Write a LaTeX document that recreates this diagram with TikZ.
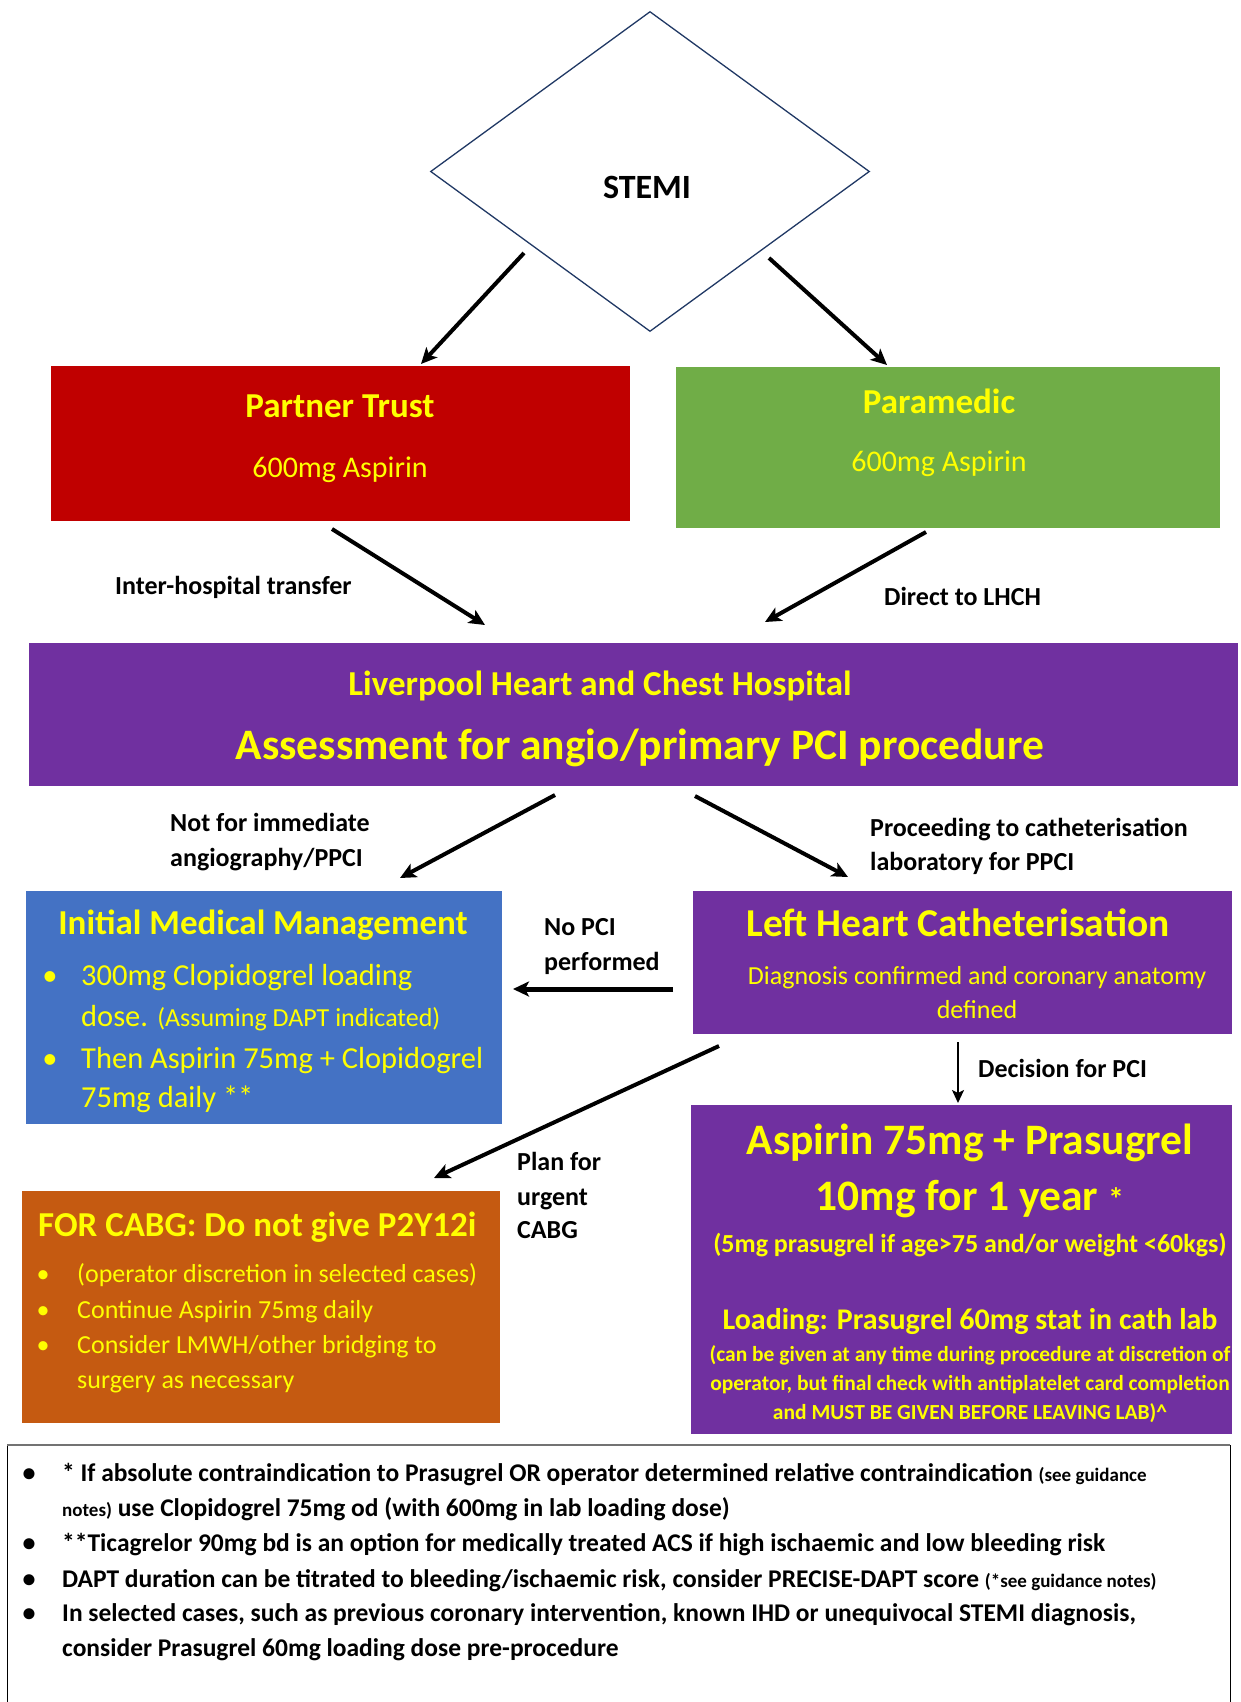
\documentclass[tikz,border=0pt]{standalone}
\usepackage{fontspec}
\setmainfont{Carlito}
\usetikzlibrary{shapes.geometric, arrows.meta}

\definecolor{trustred}{HTML}{C00000}
\definecolor{paragreen}{HTML}{70AD47}
\definecolor{lhchpurple}{HTML}{7030A0}
\definecolor{immblue}{HTML}{4472C4}
\definecolor{cabgorange}{HTML}{C55A11}
\definecolor{stemiblue}{HTML}{203864}
\definecolor{ytext}{HTML}{FFFF00}

\newcommand{\fsz}[2]{\fontsize{#1pt}{#2pt}\selectfont}

\begin{document}
\begin{tikzpicture}[x=1pt, y=-1pt,
  box/.style={draw=none, inner sep=0pt},
  ytxt/.style={text=ytext, inner sep=0pt, anchor=base},
  ktxt/.style={text=black, inner sep=0pt, anchor=base west, font=\bfseries\fsz{26}{31}},
  arr/.style={-{Stealth[length=16pt, width=15pt, inset=4pt]}, line width=4pt},
  bul/.style={inner sep=0pt, anchor=base}]
\useasboundingbox (0,0) rectangle (1240,1702);

% STEMI
\node[diamond, draw=stemiblue, line width=1.3pt, minimum width=439pt, minimum height=320pt, inner sep=0pt] (stemi) at (650,171.5) {};
\node[inner sep=0pt, anchor=base, font=\bfseries\fsz{34}{41}] (stemitxt) at (647,198) {STEMI};

% boxes
\node[box, fill=trustred, minimum width=579pt, minimum height=155pt] (trust) at (340.5,443.5) {};
\node[box, fill=paragreen, minimum width=544pt, minimum height=161pt] (para) at (948,447.5) {};
\node[box, fill=lhchpurple, minimum width=1209pt, minimum height=143pt] (lhch) at (633.5,714.5) {};
\node[box, fill=immblue, minimum width=476pt, minimum height=233pt] (imm) at (264,1007.5) {};
\node[box, fill=lhchpurple, minimum width=539pt, minimum height=143pt] (lhc) at (962.5,962.5) {};
\node[box, fill=cabgorange, minimum width=478pt, minimum height=232pt] (cabg) at (261,1307) {};
\node[box, fill=lhchpurple, minimum width=541pt, minimum height=329pt] (pras) at (961.5,1269.5) {};

% box texts
\node[ytxt, font=\bfseries\fsz{35}{42}] (trustA) at (340,417) {Partner Trust};
\node[ytxt, font=\fsz{30}{36}] (trustB) at (340,477) {600mg Aspirin};
\node[ytxt, font=\bfseries\fsz{35}{42}] (paraA) at (939,413) {Paramedic};
\node[ytxt, font=\fsz{30}{36}] (paraB) at (939,471) {600mg Aspirin};

\node[ytxt, font=\bfseries\fsz{35}{42}] (lhchA) at (600,695) {Liverpool Heart and Chest Hospital};
\node[ytxt, font=\bfseries\fsz{43.5}{52}] (lhchB) at (640,759) {Assessment for angio/primary PCI procedure};

\node[ytxt, font=\bfseries\fsz{35}{42}] (immA) at (263,934) {Initial Medical Management};
\node[bul, text=ytext, font=\fsz{30.5}{36}] (immb1) at (50,985) {\textbullet};
\node[ytxt, anchor=base west, font=\fsz{30.5}{36}] (imm1) at (81,985) {300mg Clopidogrel loading};
\node[ytxt, anchor=base west, font=\fsz{30.5}{36}] (imm2) at (81,1026) {dose. {\fsz{26}{31}(Assuming DAPT indicated)}};
\node[bul, text=ytext, font=\fsz{30.5}{36}] (immb2) at (50,1068) {\textbullet};
\node[ytxt, anchor=base west, font=\fsz{30.5}{36}] (imm3) at (81,1068) {Then Aspirin 75mg + Clopidogrel};
\node[ytxt, anchor=base west, font=\fsz{30.5}{36}] (imm4) at (81,1107) {75mg daily **};

\node[ytxt, font=\bfseries\fsz{39.5}{47}] (lhcA) at (958,936) {Left Heart Catheterisation};
\node[ytxt, font=\fsz{26}{31}] (lhcB) at (977,984) {Diagnosis confirmed and coronary anatomy};
\node[ytxt, font=\fsz{26}{31}] (lhcC) at (977,1018) {defined};

\node[ytxt, anchor=base west, font=\bfseries\fsz{35}{42}] (cabgA) at (38,1236) {FOR CABG: Do not give P2Y12i};
\foreach \yy/\txt [count=\i] in {1282/{(operator discretion in selected cases)}, 1318/{Continue Aspirin 75mg daily}, 1353/{Consider LMWH/other bridging to}} {
  \node[bul, text=ytext, font=\fsz{26}{31}] (cabgb\i) at (43,\yy) {\textbullet};
  \node[ytxt, anchor=base west, font=\fsz{26}{31}] (cabg\i) at (77,\yy) {\txt};
}
\node[ytxt, anchor=base west, font=\fsz{26}{31}] (cabg4) at (77,1388) {surgery as necessary};

\node[ytxt, font=\bfseries\fsz{43.5}{52}] (prasA) at (970,1154) {Aspirin 75mg + Prasugrel};
\node[ytxt, font=\bfseries\fsz{43.5}{52}] (prasB) at (970,1210) {10mg for 1 year {\fsz{32}{38}*}};
\node[ytxt, font=\bfseries\fsz{26}{31}] (prasC) at (970,1252) {(5mg prasugrel if age>75 and/or weight <60kgs)};
\node[ytxt, font=\bfseries\fsz{30}{36}] (prasD) at (970,1329) {Loading: Prasugrel 60mg stat in cath lab};
\node[ytxt, font=\bfseries\fsz{21.5}{26}] (prasE) at (970,1361) {(can be given at any time during procedure at discretion of};
\node[ytxt, font=\bfseries\fsz{21.5}{26}] (prasF) at (970,1390) {operator, but final check with antiplatelet card completion};
\node[ytxt, font=\bfseries\fsz{21.5}{26}] (prasG) at (970,1419) {and MUST BE GIVEN BEFORE LEAVING LAB)\textasciicircum};

% connector labels
\node[ktxt] (lblA) at (115,594) {Inter-hospital transfer};
\node[ktxt] (lblB) at (884,605) {Direct to LHCH};
\node[ktxt] (lblC1) at (170,831) {Not for immediate};
\node[ktxt] (lblC2) at (170,866) {angiography/PPCI};
\node[ktxt] (lblD1) at (870,836) {Proceeding to catheterisation};
\node[ktxt] (lblD2) at (870,870) {laboratory for PPCI};
\node[ktxt] (lblE1) at (544,935) {No PCI};
\node[ktxt] (lblE2) at (544,970) {performed};
\node[ktxt] (lblF) at (978,1077) {Decision for PCI};
\node[ktxt] (lblG1) at (517,1170) {Plan for};
\node[ktxt] (lblG2) at (517,1205) {urgent};
\node[ktxt] (lblG3) at (517,1238) {CABG};

% connector ends
\coordinate (s1) at (524,253);  \coordinate (e1) at (421,364);
\coordinate (s2) at (769,258);  \coordinate (e2) at (887,365);
\coordinate (s3) at (332,529);  \coordinate (e3) at (485,625);
\coordinate (s4) at (926,532);  \coordinate (e4) at (765,622);
\coordinate (s5) at (555,795);  \coordinate (e5) at (400,878);
\coordinate (s6) at (695,796);  \coordinate (e6) at (848,877);
\coordinate (s7) at (673,989);  \coordinate (e7) at (513,989);
\coordinate (s8) at (958,1042); \coordinate (e8) at (958,1103);
\coordinate (s9) at (719,1046); \coordinate (e9) at (434,1178);

\draw[arr] (s1) -- (e1);
\draw[arr] (s2) -- (e2);
\draw[arr] (s3) -- (e3);
\draw[arr] (s4) -- (e4);
\draw[arr] (s5) -- (e5);
\draw[arr] (s6) -- (e6);
\draw[arr, line width=5pt] (s7) -- (e7);
\draw[-{Stealth[length=13pt, width=12pt, inset=3pt]}, line width=1.8pt] (s8) -- (e8);
\draw[arr] (s9) -- (e9);

% notes
\draw[black, line width=1pt] (7,1702) -- (7,1445) -- (1230,1445) -- (1230,1702);
\draw[black!55, line width=2.5pt] (7,1445) -- (1230,1445);
\foreach \yy in {1481, 1551, 1587, 1621} {
  \node[bul, font=\bfseries\fsz{26}{31}] at (29,\yy) {\textbullet};
}
\node[ktxt, font=\bfseries\fsz{25.5}{31}] (note1) at (62,1481) {* If absolute contraindication to Prasugrel OR operator determined relative contraindication {\fsz{19}{23}(see guidance}};
\node[ktxt, font=\bfseries\fsz{25.5}{31}] (note2) at (62,1516) {{\fsz{19}{23}notes)} use Clopidogrel 75mg od (with 600mg in lab loading dose)};
\node[ktxt, font=\bfseries\fsz{25.5}{31}] (note3) at (62,1551) {**Ticagrelor 90mg bd is an option for medically treated ACS if high ischaemic and low bleeding risk};
\node[ktxt, font=\bfseries\fsz{25.5}{31}] (note4) at (62,1587) {DAPT duration can be titrated to bleeding/ischaemic risk, consider PRECISE-DAPT score {\fsz{19}{23}(*see guidance notes)}};
\node[ktxt, font=\bfseries\fsz{25.5}{31}] (note5) at (62,1621) {In selected cases, such as previous coronary intervention, known IHD or unequivocal STEMI diagnosis,};
\node[ktxt, font=\bfseries\fsz{25.5}{31}] (note6) at (62,1656) {consider Prasugrel 60mg loading dose pre-procedure};
\end{tikzpicture}
\end{document}
